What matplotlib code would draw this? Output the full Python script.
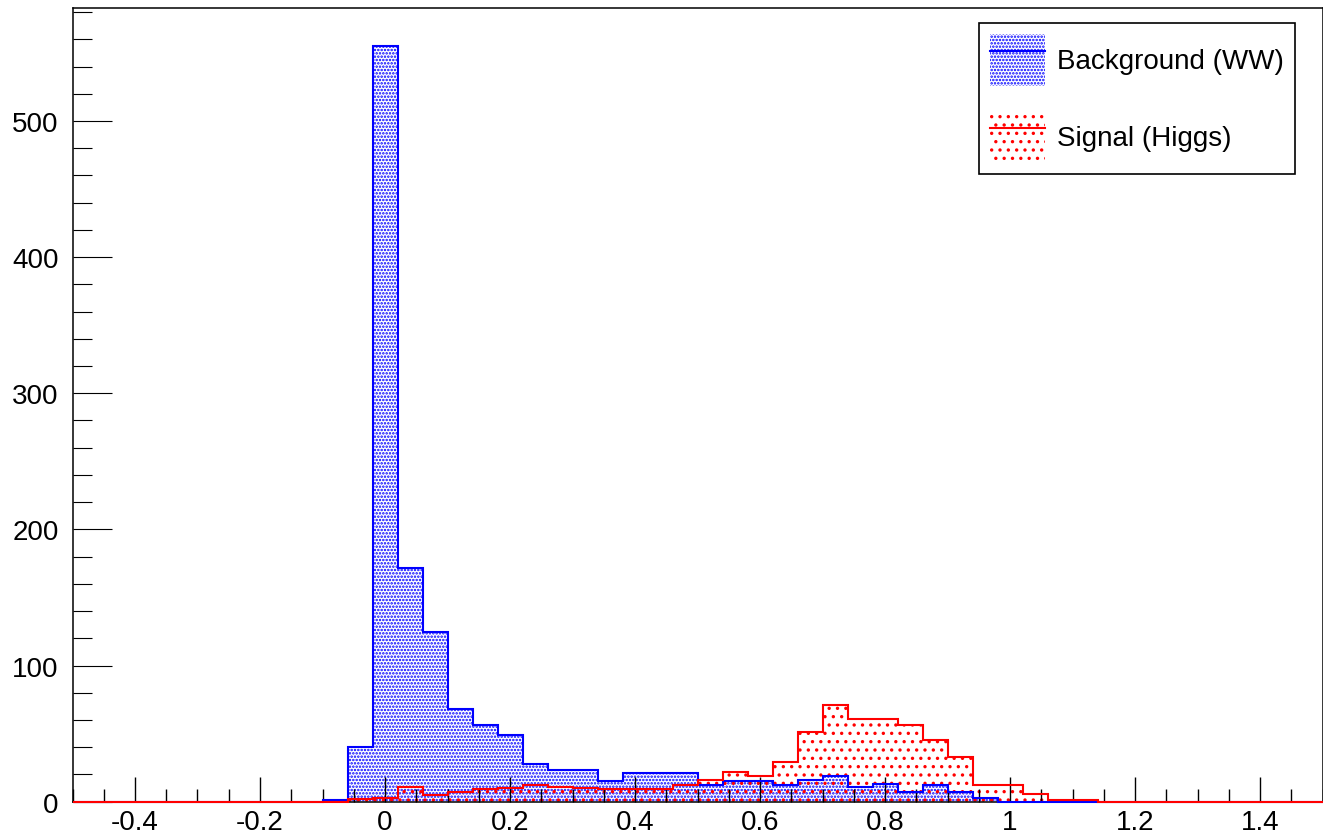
import numpy as np
import matplotlib.pyplot as plt
from matplotlib.ticker import MultipleLocator
from matplotlib.patches import Patch
from matplotlib.lines import Line2D
from matplotlib.legend_handler import HandlerTuple

plt.rcParams['font.family'] = ['Liberation Sans', 'DejaVu Sans']
plt.rcParams['hatch.linewidth'] = 1.2

# 50 bins of width 0.04 between -0.5 and 1.5
edges = np.linspace(-0.5, 1.5, 51)

background_ww = [
    0, 0, 0, 0, 0, 0, 0, 0, 0, 0,
    1, 40, 555, 172, 125, 68, 56, 49, 28, 23,
    23, 15, 21, 21, 21, 12, 15, 15, 12, 16,
    19, 11, 13, 7, 12, 7, 3, 0, 0, 0,
    0, 0, 0, 0, 0, 0, 0, 0, 0, 0,
]
signal_higgs = [
    0, 0, 0, 0, 0, 0, 0, 0, 0, 0,
    0, 2, 3, 11, 5, 7, 9, 10, 12, 11,
    10, 9, 9, 9, 12, 16, 22, 19, 29, 51,
    71, 61, 61, 56, 45, 33, 12, 12, 6, 1,
    1, 0, 0, 0, 0, 0, 0, 0, 0, 0,
]
labels = ['Background (WW)', 'Signal (Higgs)']
xtick_vals = [-0.4, -0.2, 0, 0.2, 0.4, 0.6, 0.8, 1.0, 1.2, 1.4]
xtick_text = ['-0.4', '-0.2', '0', '0.2', '0.4', '0.6', '0.8', '1', '1.2', '1.4']

fig = plt.figure(figsize=(13.23, 8.37), dpi=100)
ax = fig.add_axes([72.5 / 1323, 1 - 802.7 / 837, 1250 / 1323, 793.4 / 837])

# background: dense blue dots, signal: sparse red dots
ax.stairs(background_ww, edges, fill=True, facecolor='none', edgecolor='blue',
          linewidth=0, hatch='.....', zorder=1)
ax.stairs(background_ww, edges, color='blue', linewidth=1.5, zorder=3, clip_on=False)
ax.stairs(signal_higgs, edges, fill=True, facecolor='none', edgecolor='red',
          linewidth=0, hatch='..', zorder=1.1)
ax.stairs(signal_higgs, edges, color='red', linewidth=1.5, zorder=3.1, clip_on=False)

ax.set_xlim(-0.5, 1.5)
ax.set_ylim(0, 1.05 * max(background_ww))
ax.set_xticks(xtick_vals)
ax.set_xticklabels(xtick_text)
ax.xaxis.set_minor_locator(MultipleLocator(0.05))
ax.yaxis.set_major_locator(MultipleLocator(100))
ax.yaxis.set_minor_locator(MultipleLocator(20))
ax.tick_params(axis='x', which='major', direction='in', length=18, width=1.0,
               labelsize=20, pad=5)
ax.tick_params(axis='x', which='minor', direction='in', length=9.5, width=1.0)
ax.tick_params(axis='y', which='major', direction='in', length=28, width=0.8,
               labelsize=20, pad=10)
ax.tick_params(axis='y', which='minor', direction='in', length=14, width=0.8)
ax.set_axisbelow(False)
for s in ax.spines.values():
    s.set_linewidth(1.1)
    s.set_zorder(2.5)

handles = [
    (Patch(facecolor='none', edgecolor='blue', linewidth=0, hatch='.....'),
     Line2D([], [], color='blue', linewidth=1.5)),
    (Patch(facecolor='none', edgecolor='red', linewidth=0, hatch='..'),
     Line2D([], [], color='red', linewidth=1.5)),
]
leg = ax.legend(handles, labels, handler_map={tuple: HandlerTuple(ndivide=1)},
                loc='upper right', bbox_to_anchor=(0.978, 0.982), borderaxespad=0,
                fontsize=20, handlelength=1.95, handleheight=2.5, handletextpad=0.45,
                labelspacing=0.9, borderpad=0.4, fancybox=False, framealpha=1)
leg.get_frame().set_edgecolor('black')
leg.get_frame().set_linewidth(1.2)

fig.savefig('out.png', dpi=100)
